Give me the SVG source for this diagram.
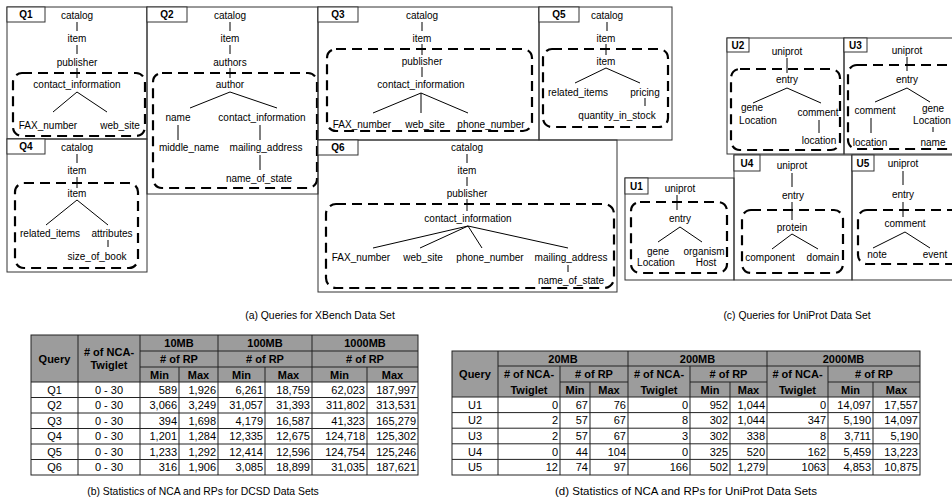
<svg xmlns="http://www.w3.org/2000/svg" width="952" height="503" viewBox="0 0 952 503">
<style>
text{font-family:"Liberation Sans",Arial,sans-serif;font-size:10px;text-anchor:middle;fill:#000}
.b{font-weight:bold}
.r{text-anchor:end}
.tb text{font-size:11px}
.cap{font-size:10.4px}
.box{fill:none;stroke:#333;stroke-width:1}
.lbl{fill:#fff;stroke:#333;stroke-width:1}
.dash{fill:none;stroke:#000;stroke-width:2.2;stroke-dasharray:10 6}
.e{stroke:#000;stroke-width:1;fill:none}
.hd{fill:#9c9c9c}
.g{stroke:#222;stroke-width:1;fill:none}
</style>
<rect width="952" height="503" fill="#fff"/>

<g id="Q1">
<rect class="box" x="7" y="7" width="140" height="132"/>
<rect class="lbl" x="7" y="7" width="38" height="15"/><text class="b" x="26" y="18">Q1</text>
<rect class="dash" x="13" y="73" width="132" height="63" rx="9"/>
<text id="q1-catalog" x="77" y="18.5">catalog</text>
<text id="q1-item" x="77" y="41.5">item</text>
<text id="q1-publisher" x="77" y="65.5">publisher</text>
<text id="q1-contact" x="77" y="87.5">contact_information</text>
<text id="q1-fax" x="48" y="128.5">FAX_number</text>
<text id="q1-web" x="120" y="128.5">web_site</text>
</g>
<g id="Q4">
<rect class="box" x="7" y="139" width="140" height="133"/>
<rect class="lbl" x="7" y="139" width="38" height="15"/><text class="b" x="26" y="150">Q4</text>
<rect class="dash" x="15" y="183" width="123" height="85" rx="9"/>
<text id="q4-catalog" x="77" y="150.5">catalog</text>
<text id="q4-item" x="77" y="173.5">item</text>
<text id="q4-item2" x="77" y="196.5">item</text>
<text id="q4-related" x="50" y="236.5">related_items</text>
<text id="q4-attr" x="112" y="236.5">attributes</text>
<text id="q4-size" x="97" y="259.5">size_of_book</text>
</g>
<g id="Q2">
<rect class="box" x="147" y="7" width="171" height="187"/>
<rect class="lbl" x="147" y="7" width="40" height="15"/><text class="b" x="167" y="18">Q2</text>
<rect class="dash" x="153" y="73" width="164" height="115" rx="9"/>
<text id="q2-catalog" x="230" y="18.5">catalog</text>
<text id="q2-item" x="230" y="41.5">item</text>
<text id="q2-authors" x="230" y="65.5">authors</text>
<text id="q2-author" x="230" y="87.5">author</text>
<text id="q2-name" x="178" y="120.5">name</text>
<text id="q2-contact" x="262" y="120.5">contact_information</text>
<text id="q2-middle" x="189" y="150.5">middle_name</text>
<text id="q2-mailing" x="266" y="150.5">mailing_address</text>
<text id="q2-state" x="259" y="181.5">name_of_state</text>
</g>
<g id="Q3">
<rect class="box" x="318" y="7" width="221" height="133"/>
<rect class="lbl" x="318" y="7" width="40" height="15"/><text class="b" x="338" y="18">Q3</text>
<rect class="dash" x="327" y="49" width="205" height="82" rx="9"/>
<text id="q3-catalog" x="422" y="18.5">catalog</text>
<text id="q3-item" x="422" y="41.5">item</text>
<text id="q3-publisher" x="422" y="64.5">publisher</text>
<text id="q3-contact" x="421" y="87.5">contact_information</text>
<text id="q3-fax" x="362" y="127.5">FAX_number</text>
<text id="q3-web" x="425" y="127.5">web_site</text>
<text id="q3-phone" x="491" y="127.5">phone_number</text>
</g>
<g id="Q5">
<rect class="box" x="539" y="7" width="133" height="133"/>
<rect class="lbl" x="539" y="7" width="40" height="15"/><text class="b" x="559" y="18">Q5</text>
<rect class="dash" x="543" y="49" width="125" height="78" rx="9"/>
<text id="q5-catalog" x="607" y="18.5">catalog</text>
<text id="q5-item" x="606" y="41.5">item</text>
<text id="q5-item2" x="606" y="64.5">item</text>
<text id="q5-related" x="578" y="95.5">related_items</text>
<text id="q5-pricing" x="645" y="95.5">pricing</text>
<text id="q5-qty" x="617" y="118.5">quantity_in_stock</text>
</g>
<g id="Q6">
<rect class="box" x="318" y="140" width="299" height="152"/>
<rect class="lbl" x="318" y="140" width="40" height="15"/><text class="b" x="338" y="151">Q6</text>
<rect class="dash" x="326" y="204" width="288" height="84" rx="10"/>
<text id="q6-catalog" x="467" y="150.5">catalog</text>
<text id="q6-item" x="467" y="173.5">item</text>
<text id="q6-publisher" x="467" y="196.5">publisher</text>
<text id="q6-contact" x="468" y="221.5">contact_information</text>
<text id="q6-fax" x="361" y="260.5">FAX_number</text>
<text id="q6-web" x="423" y="260.5">web_site</text>
<text id="q6-phone" x="490" y="260.5">phone_number</text>
<text id="q6-mailing" x="571" y="260.5">mailing_address</text>
<text id="q6-state" x="571" y="283.5">name_of_state</text>
</g>

<g id="U2">
<rect class="box" x="727" y="38" width="117" height="116"/>
<rect class="lbl" x="727" y="38" width="22" height="14"/><text class="b" x="738" y="48.5">U2</text>
<rect class="dash" x="731" y="69" width="109" height="81" rx="9"/>
<text id="u2-uniprot" x="787" y="54.5">uniprot</text>
<text id="u2-entry" x="787" y="82.5">entry</text>
<text id="u2-gene" x="752" y="110.5">gene</text>
<text id="u2-loc" x="758" y="123.5">Location</text>
<text id="u2-comment" x="818" y="115.5">comment</text>
<text id="u2-location" x="819" y="143.5">location</text>
</g>
<g id="U3">
<rect class="box" x="844" y="38" width="120" height="116"/>
<rect class="lbl" x="844" y="38" width="23" height="14"/><text class="b" x="855.5" y="48.5">U3</text>
<rect class="dash" x="848" y="65" width="120" height="84" rx="9"/>
<text id="u3-uniprot" x="907" y="53.5">uniprot</text>
<text id="u3-entry" x="907" y="82.5">entry</text>
<text id="u3-comment" x="875" y="113.5">comment</text>
<text id="u3-gene" x="933" y="111.5">gene</text>
<text id="u3-loc" x="932" y="123.5">Location</text>
<text id="u3-location" x="870" y="145.5">location</text>
<text id="u3-name" x="933" y="145.5">name</text>
</g>
<g id="U1">
<rect class="box" x="625" y="178" width="109" height="102"/>
<rect class="lbl" x="625" y="178" width="23" height="16"/><text class="b" x="636.5" y="189.5">U1</text>
<rect class="dash" x="631" y="202" width="96" height="71" rx="9"/>
<text id="u1-uniprot" x="680" y="191.5">uniprot</text>
<text id="u1-entry" x="680" y="221.5">entry</text>
<text id="u1-gene" x="658" y="254.5">gene</text>
<text id="u1-loc" x="656" y="265.5">Location</text>
<text id="u1-org" x="704" y="254.5">organism</text>
<text id="u1-host" x="706" y="265.5">Host</text>
</g>
<g id="U4">
<rect class="box" x="734" y="155" width="118" height="125"/>
<rect class="lbl" x="734" y="155" width="26" height="16"/><text class="b" x="747" y="166.5">U4</text>
<rect class="dash" x="742" y="210" width="101" height="63" rx="9"/>
<text id="u4-uniprot" x="792" y="168.5">uniprot</text>
<text id="u4-entry" x="793" y="198.5">entry</text>
<text id="u4-protein" x="792" y="230.5">protein</text>
<text id="u4-component" x="770" y="260.5">component</text>
<text id="u4-domain" x="823" y="260.5">domain</text>
</g>
<g id="U5">
<rect class="box" x="852" y="155" width="112" height="125"/>
<rect class="lbl" x="852" y="155" width="22" height="16"/><text class="b" x="863" y="166.5">U5</text>
<rect class="dash" x="858" y="210" width="110" height="54" rx="9"/>
<text id="u5-uniprot" x="903" y="166.5">uniprot</text>
<text id="u5-entry" x="903" y="197.5">entry</text>
<text id="u5-comment" x="905" y="226.5">comment</text>
<text id="u5-note" x="877" y="257.5">note</text>
<text id="u5-event" x="935" y="257.5">event</text>
</g>

<g id="connectors" class="e">
<path d="M77 22V31M77 45V54M77 68V78M77 92L53 112M77 92L107 112"/>
<path d="M77 154V163M77 177V188M77 200L46 225M77 200L108 225M108 240V247"/>
<path d="M230 22V31M230 45V54M230 68V78M230 92L190 108M230 92L277 108M178 125V140M260 125V140M260 155V170"/>
<path d="M422 22V31M422 44V55M422 67V77M421 93L373 113M421 93V113M421 93L468 113"/>
<path d="M607 22V31M606 44V55M606 68L575 83M606 68L640 83M645 98V106"/>
<path d="M467 154V163M467 177V186M467 199V211M468 226L373 248M468 226L420 248M468 226L482 248M468 226L568 248M568 265V272"/>
<path d="M787 58V73M787 88L753 103M787 88L821 103M819 120V133"/>
<path d="M907 57V71M907 88L875 102M907 88L930 102M871 118V133M933 127V132"/>
<path d="M677 195V210M680 227L658 242M680 227L702 242"/>
<path d="M792 173V187M792 202V220M792 234L772 249M792 234L818 249"/>
<path d="M903 171V185M903 202V217M905 232L873 248M905 232L930 248"/>
</g>

<text id="cap-a" class="cap" x="320" y="318.5">(a) Queries for XBench Data Set</text>
<text id="cap-c" class="cap" x="797" y="318.5">(c) Queries for UniProt Data Set</text>

<g id="table-b" class="tb">
<rect class="hd" x="31" y="335" width="387" height="47"/>
<rect fill="#fff" x="31" y="382" width="387" height="93"/>
<g class="g">
<rect x="31" y="335" width="387" height="140"/>
<path d="M140 351H418M140 367H418M31 382H418M31 397.5H418M31 413H418M31 428.5H418M31 444H418M31 459.5H418"/>
<path d="M78 335V475M140 335V475M218 335V475M312 335V475M179 367V475M265 367V475M367 367V475"/>
</g>
<text class="b" x="54.5" y="362.5">Query</text>
<text class="b" x="109" y="356">
# of NCA-</text>
<text class="b" x="109" y="369">Twiglet</text>
<text class="b" x="179" y="347">10MB</text>
<text class="b" x="265" y="347">100MB</text>
<text class="b" x="365" y="347">1000MB</text>
<text class="b" x="179" y="363"># of RP</text>
<text class="b" x="265" y="363"># of RP</text>
<text class="b" x="365" y="363"># of RP</text>
<text class="b" x="159.5" y="378.5">Min</text><text class="b" x="198.5" y="378.5">Max</text>
<text class="b" x="241.5" y="378.5">Min</text><text class="b" x="288.5" y="378.5">Max</text>
<text class="b" x="339.5" y="378.5">Min</text><text class="b" x="392.5" y="378.5">Max</text>
<text x="54.5" y="393.8">Q1</text><text x="109" y="393.8">0 - 30</text>
<text class="r" x="177" y="393.8">589</text><text class="r" x="216" y="393.8">1,926</text><text class="r" x="263" y="393.8">6,261</text><text class="r" x="310" y="393.8">18,759</text><text class="r" x="365" y="393.8">62,023</text><text class="r" x="416" y="393.8">187,997</text>
<text x="54.5" y="409.3">Q2</text><text x="109" y="409.3">0 - 30</text>
<text class="r" x="177" y="409.3">3,066</text><text class="r" x="216" y="409.3">3,249</text><text class="r" x="263" y="409.3">31,057</text><text class="r" x="310" y="409.3">31,393</text><text class="r" x="365" y="409.3">311,802</text><text class="r" x="416" y="409.3">313,531</text>
<text x="54.5" y="424.8">Q3</text><text x="109" y="424.8">0 - 30</text>
<text class="r" x="177" y="424.8">394</text><text class="r" x="216" y="424.8">1,698</text><text class="r" x="263" y="424.8">4,179</text><text class="r" x="310" y="424.8">16,587</text><text class="r" x="365" y="424.8">41,323</text><text class="r" x="416" y="424.8">165,279</text>
<text x="54.5" y="440.3">Q4</text><text x="109" y="440.3">0 - 30</text>
<text class="r" x="177" y="440.3">1,201</text><text class="r" x="216" y="440.3">1,284</text><text class="r" x="263" y="440.3">12,335</text><text class="r" x="310" y="440.3">12,675</text><text class="r" x="365" y="440.3">124,718</text><text class="r" x="416" y="440.3">125,302</text>
<text x="54.5" y="455.8">Q5</text><text x="109" y="455.8">0 - 30</text>
<text class="r" x="177" y="455.8">1,233</text><text class="r" x="216" y="455.8">1,292</text><text class="r" x="263" y="455.8">12,414</text><text class="r" x="310" y="455.8">12,596</text><text class="r" x="365" y="455.8">124,754</text><text class="r" x="416" y="455.8">125,246</text>
<text x="54.5" y="471.3">Q6</text><text x="109" y="471.3">0 - 30</text>
<text class="r" x="177" y="471.3">316</text><text class="r" x="216" y="471.3">1,906</text><text class="r" x="263" y="471.3">3,085</text><text class="r" x="310" y="471.3">18,899</text><text class="r" x="365" y="471.3">31,035</text><text class="r" x="416" y="471.3">187,621</text>
</g>
<text id="cap-b" class="cap" x="203" y="495">(b) Statistics of NCA and RPs for DCSD Data Sets</text>

<g id="table-d" class="tb">
<rect class="hd" x="452" y="351" width="468" height="46"/>
<rect fill="#fff" x="452" y="397" width="468" height="78"/>
<g class="g">
<rect x="452" y="351" width="468" height="124"/>
<path d="M498 366H920M560 382H628M690 382H767M828 382H920M452 397H920M452 412.6H920M452 428.2H920M452 443.8H920M452 459.4H920"/>
<path d="M498 351V475M628 351V475M767 351V475M560 366V475M690 366V475M828 366V475M590 382V475M730 382V475M873 382V475"/>
</g>
<text class="b" x="475" y="378">Query</text>
<text class="b" x="563" y="362.5">20MB</text>
<text class="b" x="697.5" y="362.5">200MB</text>
<text class="b" x="843.5" y="362.5">2000MB</text>
<text class="b" x="529" y="378"># of NCA-</text><text class="b" x="529" y="393.5">Twiglet</text>
<text class="b" x="659" y="378"># of NCA-</text><text class="b" x="659" y="393.5">Twiglet</text>
<text class="b" x="797.5" y="378"># of NCA-</text><text class="b" x="797.5" y="393.5">Twiglet</text>
<text class="b" x="594" y="378"># of RP</text><text class="b" x="728.5" y="378"># of RP</text><text class="b" x="874" y="378"># of RP</text>
<text class="b" x="575" y="393.5">Min</text><text class="b" x="609" y="393.5">Max</text>
<text class="b" x="710" y="393.5">Min</text><text class="b" x="748.5" y="393.5">Max</text>
<text class="b" x="850.5" y="393.5">Min</text><text class="b" x="896.5" y="393.5">Max</text>
<text x="475" y="408.8">U1</text>
<text class="r" x="558" y="408.8">0</text><text class="r" x="588" y="408.8">67</text><text class="r" x="626" y="408.8">76</text><text class="r" x="688" y="408.8">0</text><text class="r" x="728" y="408.8">952</text><text class="r" x="765" y="408.8">1,044</text><text class="r" x="826" y="408.8">0</text><text class="r" x="871" y="408.8">14,097</text><text class="r" x="918" y="408.8">17,557</text>
<text x="475" y="424.4">U2</text>
<text class="r" x="558" y="424.4">2</text><text class="r" x="588" y="424.4">57</text><text class="r" x="626" y="424.4">67</text><text class="r" x="688" y="424.4">8</text><text class="r" x="728" y="424.4">302</text><text class="r" x="765" y="424.4">1,044</text><text class="r" x="826" y="424.4">347</text><text class="r" x="871" y="424.4">5,190</text><text class="r" x="918" y="424.4">14,097</text>
<text x="475" y="440">U3</text>
<text class="r" x="558" y="440">2</text><text class="r" x="588" y="440">57</text><text class="r" x="626" y="440">67</text><text class="r" x="688" y="440">3</text><text class="r" x="728" y="440">302</text><text class="r" x="765" y="440">338</text><text class="r" x="826" y="440">8</text><text class="r" x="871" y="440">3,711</text><text class="r" x="918" y="440">5,190</text>
<text x="475" y="455.6">U4</text>
<text class="r" x="558" y="455.6">0</text><text class="r" x="588" y="455.6">44</text><text class="r" x="626" y="455.6">104</text><text class="r" x="688" y="455.6">0</text><text class="r" x="728" y="455.6">325</text><text class="r" x="765" y="455.6">520</text><text class="r" x="826" y="455.6">162</text><text class="r" x="871" y="455.6">5,459</text><text class="r" x="918" y="455.6">13,223</text>
<text x="475" y="471.2">U5</text>
<text class="r" x="558" y="471.2">12</text><text class="r" x="588" y="471.2">74</text><text class="r" x="626" y="471.2">97</text><text class="r" x="688" y="471.2">166</text><text class="r" x="728" y="471.2">502</text><text class="r" x="765" y="471.2">1,279</text><text class="r" x="826" y="471.2">1063</text><text class="r" x="871" y="471.2">4,853</text><text class="r" x="918" y="471.2">10,875</text>
</g>
<text id="cap-d" x="686" y="495" style="font-size:11.5px">(d) Statistics of NCA and RPs for UniProt Data Sets</text>
</svg>
